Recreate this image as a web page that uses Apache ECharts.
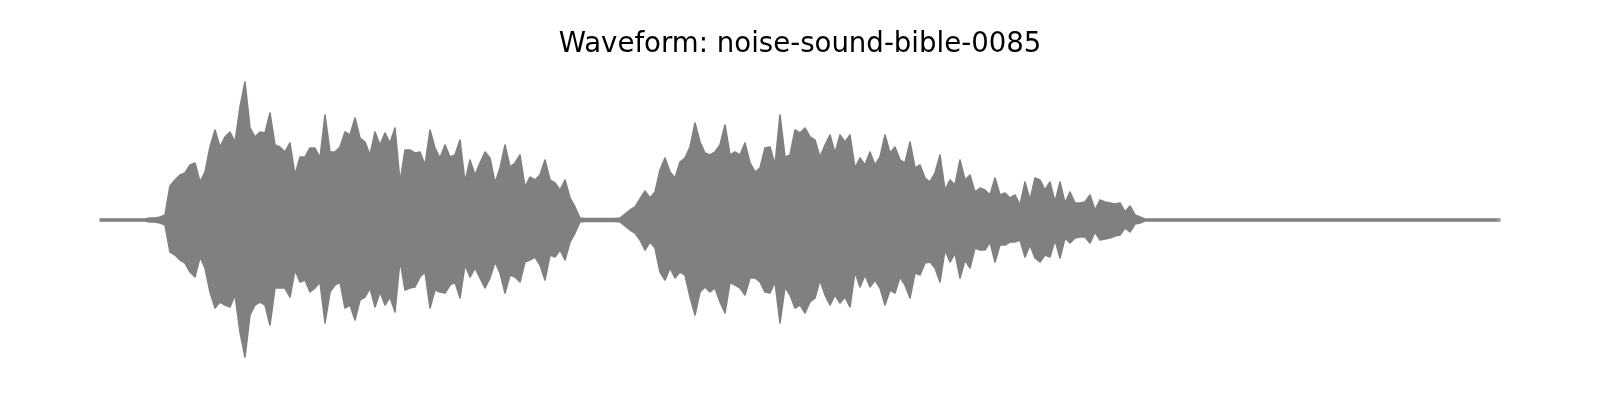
<!DOCTYPE html>
<html>
<head>
<meta charset="utf-8">
<script src="https://cdn.jsdelivr.net/npm/echarts@6/dist/echarts.min.js"></script>
<style>
  html, body { margin: 0; padding: 0; background: #ffffff; }
  #chart { width: 1600px; height: 400px; }
</style>
</head>
<body>
<div id="chart"></div>
<script>
// Waveform peak envelope, one bin per time step; amplitudes in thousandths of full scale.
const chartTitle = 'Waveform: noise-sound-bible-0085';

const upperPeak = [
  1,1,1,1,1,1,1,1,1,1,
  2,2,3,5,34,40,45,47,55,57,
  38,48,73,90,73,83,88,78,113,138,
  92,83,88,87,107,75,73,68,77,45,
  63,63,72,72,62,105,68,68,73,88,
  85,102,82,78,65,88,75,87,77,92,
  38,70,70,67,68,55,90,72,62,75,
  63,65,80,38,60,45,57,68,62,37,
  52,75,53,57,65,33,43,40,45,60,
  40,37,30,40,22,13,2,1.5,1.5,1.5,
  1.5,1.5,1.5,1.5,2,6,10,13,21,29,
  22,28,50,62,48,42,58,62,73,97,
  78,67,65,68,75,95,65,68,65,77,
  57,48,52,72,73,55,105,63,65,90,
  87,92,83,80,63,75,85,67,85,78,
  85,52,62,55,68,55,63,85,67,73,
  60,57,78,52,55,42,38,47,65,30,
  40,35,60,40,45,28,32,30,25,42,
  25,27,22,25,15,38,20,42,40,30,
  38,18,38,17,28,17,17,18,25,10,
  20,18,17,16,17,8,14,5,3,1,
  1,1,1,1,1,1,1,1,1,1,
  1,1,1,1,1,1,1,1,1,1,
  1,1,1,1,1,1,1,1,1,1,
  1,1,1,1,1,1,1,1,1,1,
  1,1,1,1,1,1,1,1,1,1,
  1,1,1,1,1,1,1,1,1,1,
  1,1,1,1,1,1,1,1,1,1,
  1
];

const lowerPeak = [
  -1,-1,-1,-1,-1,-1,-1,-1,-1,-1,
  -2,-2,-3,-5,-32,-35,-40,-43,-52,-57,
  -37,-48,-72,-88,-82,-85,-87,-75,-112,-137,
  -95,-85,-82,-85,-105,-68,-68,-68,-77,-50,
  -62,-60,-72,-68,-62,-103,-72,-65,-62,-88,
  -85,-100,-80,-77,-68,-87,-72,-85,-77,-92,
  -40,-70,-68,-67,-57,-52,-88,-70,-72,-73,
  -65,-62,-78,-45,-57,-48,-58,-68,-58,-42,
  -53,-73,-55,-57,-62,-42,-40,-37,-45,-60,
  -35,-37,-30,-40,-22,-13,-2,-1.5,-1.5,-1.5,
  -1.5,-1.5,-1.5,-1.5,-2,-6,-10,-13,-20,-30,
  -22,-28,-52,-60,-48,-58,-52,-55,-77,-95,
  -72,-67,-72,-68,-82,-93,-62,-65,-68,-75,
  -58,-58,-62,-72,-73,-62,-103,-67,-75,-88,
  -85,-93,-82,-78,-60,-75,-85,-75,-83,-77,
  -87,-52,-67,-55,-67,-60,-68,-85,-70,-73,
  -57,-65,-78,-53,-55,-43,-42,-48,-62,-30,
  -42,-33,-58,-40,-48,-28,-30,-30,-22,-42,
  -25,-25,-22,-22,-20,-37,-25,-38,-42,-35,
  -37,-20,-38,-18,-23,-18,-17,-17,-23,-12,
  -20,-19,-18,-16,-15,-8,-12,-4,-3,-1,
  -1,-1,-1,-1,-1,-1,-1,-1,-1,-1,
  -1,-1,-1,-1,-1,-1,-1,-1,-1,-1,
  -1,-1,-1,-1,-1,-1,-1,-1,-1,-1,
  -1,-1,-1,-1,-1,-1,-1,-1,-1,-1,
  -1,-1,-1,-1,-1,-1,-1,-1,-1,-1,
  -1,-1,-1,-1,-1,-1,-1,-1,-1,-1,
  -1,-1,-1,-1,-1,-1,-1,-1,-1,-1,
  -1
];

const waveColor = '#808080';
const chart = echarts.init(document.getElementById('chart'), null, { renderer: 'canvas' });

const upperData = upperPeak.map((v, i) => [i, v]);
const lowerData = lowerPeak.map((v, i) => [i, v]);

function envelopeSeries(name, data) {
  return {
    name: name,
    type: 'line',
    data: data,
    symbol: 'none',
    smooth: false,
    silent: true,
    lineStyle: { color: waveColor, width: 1.6, join: 'round', cap: 'round' },
    areaStyle: { color: waveColor, opacity: 1 },
    z: 2
  };
}

chart.setOption({
  animation: false,
  backgroundColor: '#ffffff',
  title: {
    text: chartTitle,
    left: 'center',
    top: 26,
    textStyle: {
      fontFamily: 'DejaVu Sans',
      fontSize: 27.6,
      fontWeight: 'normal',
      color: '#000000'
    }
  },
  grid: { left: 100, right: 100, top: 70, height: 300, containLabel: false },
  xAxis: {
    type: 'value',
    min: 0,
    max: upperPeak.length - 1,
    show: false
  },
  yAxis: {
    type: 'value',
    min: -150,
    max: 150,
    show: false
  },
  series: [
    envelopeSeries('max', upperData),
    envelopeSeries('min', lowerData)
  ]
});
</script>
</body>
</html>
